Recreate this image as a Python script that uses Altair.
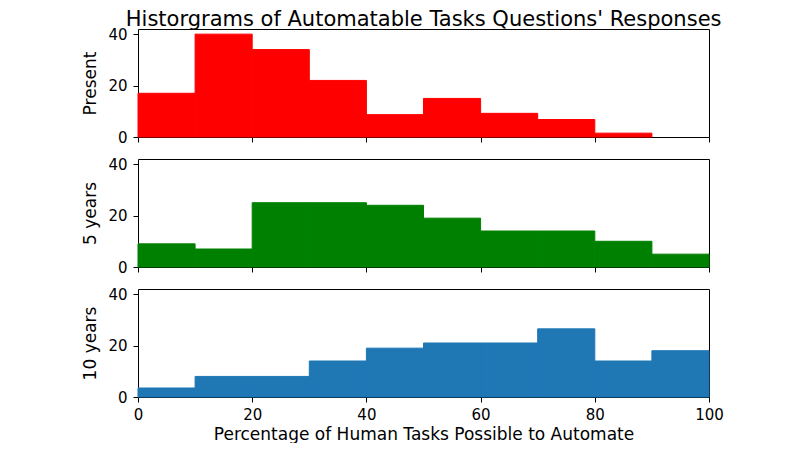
import altair as alt
import pandas as pd

# ---- data ----
bin_starts = [0, 10, 20, 30, 40, 50, 60, 70, 80, 90]
bin_width = 10
present = [17, 40, 34, 22, 8.7, 15, 9.2, 6.8, 1.5, 0]
five_years = [9, 7, 25, 25, 24, 19, 14, 14, 10, 5]
ten_years = [3.5, 8, 8, 14, 19, 21, 21, 26.5, 14, 18]
series_names = ["Present", "5 years", "10 years"]
series_colors = ["#ff0000", "#008000", "#1f77b4"]
x_ticks = [0, 20, 40, 60, 80, 100]
y_ticks = [0, 20, 40]

rows = []
for name, vals in zip(series_names, [present, five_years, ten_years]):
    for s, v in zip(bin_starts, vals):
        rows.append({"series": name, "start": s, "end": s + bin_width, "count": v, "base": 0})
df = pd.DataFrame(rows)

FONT = "DejaVu Sans"
W, H = 571, 108


def panel(name, color, bottom):
    x_axis = alt.Axis(
        values=x_ticks,
        labels=bottom,
        title="Percentage of Human Tasks Possible to Automate" if bottom else None,
        grid=False,
        domain=False,
        tickSize=5,
        tickColor="black",
        labelFlush=False,
        labelFontSize=15,
        labelColor="black",
        labelFont=FONT,
        labelPadding=5,
        titleFontSize=17,
        titleFont=FONT,
        titleFontWeight="normal",
        titleColor="black",
        titlePadding=4,
    )
    y_axis = alt.Axis(
        values=y_ticks,
        title=name,
        grid=False,
        domain=False,
        tickSize=5,
        tickColor="black",
        labelFontSize=15,
        labelColor="black",
        labelFont=FONT,
        labelPadding=6,
        titleFontSize=17,
        titleFont=FONT,
        titleFontWeight="normal",
        titleColor="black",
        titlePadding=8,
    )
    return (
        alt.Chart(df)
        .transform_filter(alt.datum.series == name)
        .transform_filter(alt.datum.count > 0)
        .mark_rect(color=color, stroke=color, strokeWidth=1)
        .encode(
            x=alt.X("start:Q", scale=alt.Scale(domain=[0, 100], nice=False, zero=False), axis=x_axis),
            x2="end:Q",
            y=alt.Y("count:Q", scale=alt.Scale(domain=[0, 42], nice=False), axis=y_axis),
            y2="base:Q",
        )
        .properties(width=W, height=H)
    )


panels = [
    panel(n, c, i == len(series_names) - 1)
    for i, (n, c) in enumerate(zip(series_names, series_colors))
]

chart = (
    alt.vconcat(*panels, spacing=10)
    .properties(
        title=alt.TitleParams(
            "Historgrams of Automatable Tasks Questions' Responses",
            fontSize=21,
            font=FONT,
            fontWeight="normal",
            color="black",
            anchor="middle",
            offset=-3,
            dx=21,
        ),
        padding={"left": 73, "top": 0, "right": 5, "bottom": 0},
        background="white",
    )
    .configure_view(stroke="black", strokeWidth=1)
)

chart.save("out.html", embed_options={"renderer": "svg", "actions": False})
